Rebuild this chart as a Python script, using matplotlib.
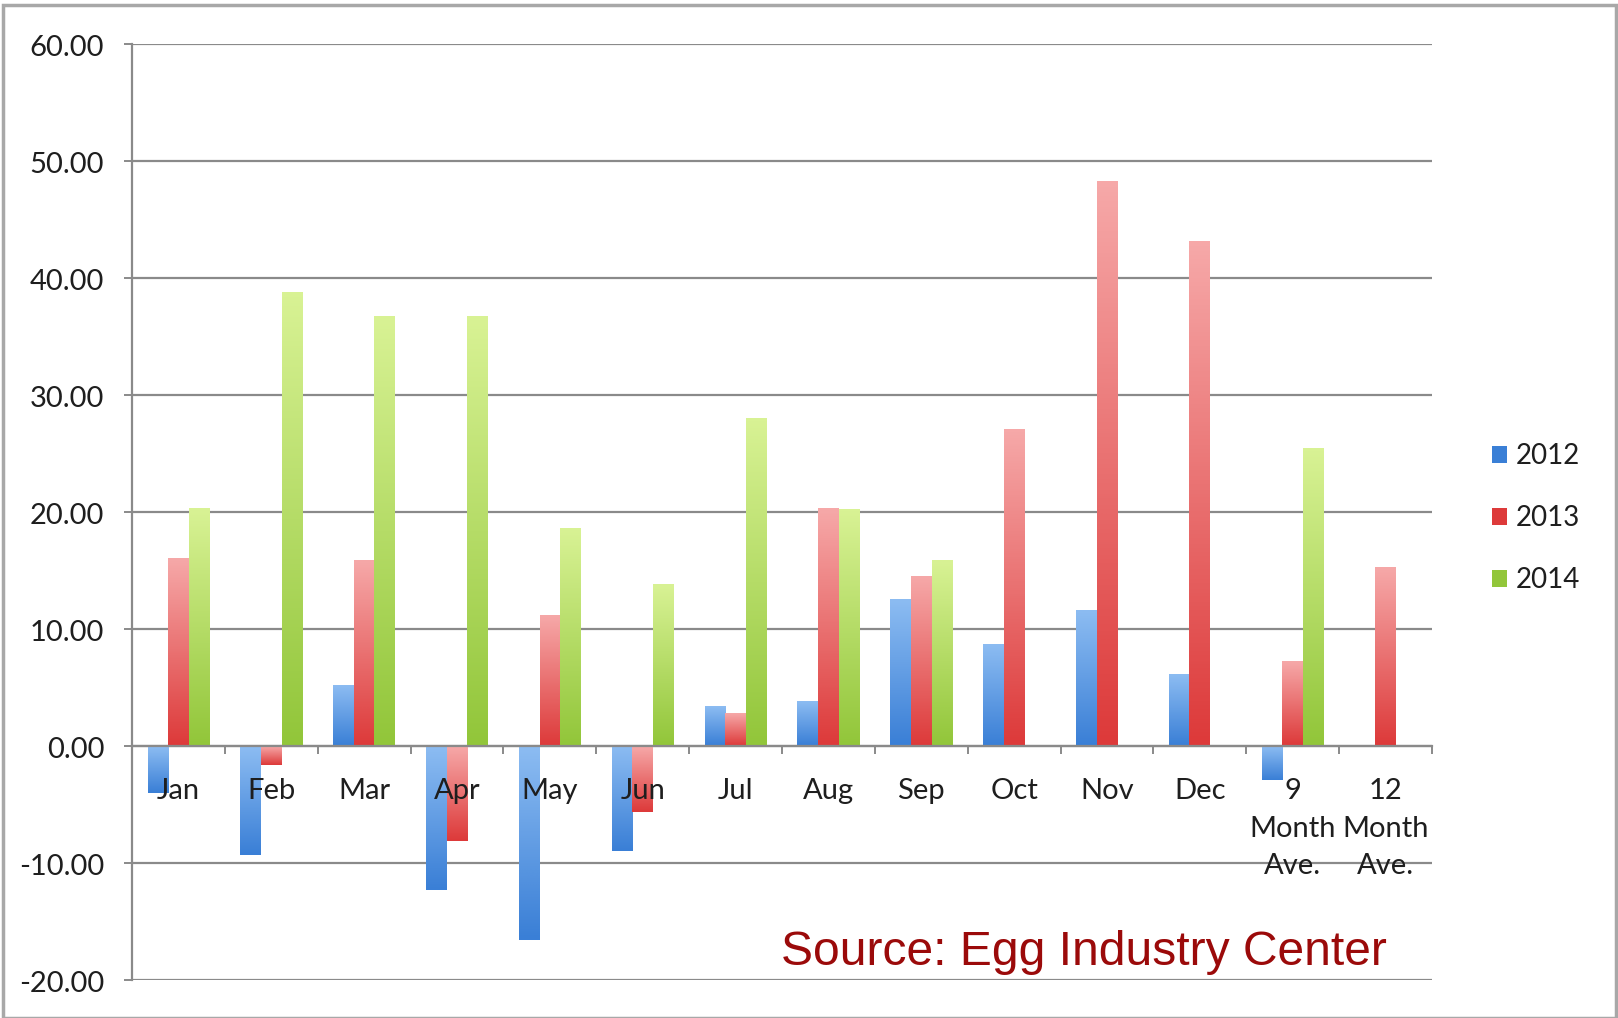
"""Monthly % change bar chart, 2012-2014 (Egg Industry Center)."""

import numpy as np
import matplotlib
matplotlib.use("Agg")
import matplotlib.pyplot as plt
import matplotlib.transforms as mtrans
from matplotlib.colors import LinearSegmentedColormap
from matplotlib.patches import Rectangle

categories = ["Jan", "Feb", "Mar", "Apr", "May", "Jun", "Jul", "Aug", "Sep",
              "Oct", "Nov", "Dec", "9\nMonth\nAve.", "12\nMonth\nAve."]
years = ["2012", "2013", "2014"]
vals_2012 = [-4.0, -9.3, 5.2, -12.3, -16.6, -9.0, 3.4, 3.8, 12.5, 8.7, 11.6, 6.1, -2.9, np.nan]
vals_2013 = [16.0, -1.6, 15.9, -8.1, 11.2, -5.6, 2.8, 20.3, 14.5, 27.1, 48.3, 43.1, 7.2, 15.3]
vals_2014 = [20.3, 38.8, 36.7, 36.7, 18.6, 13.8, 28.0, 20.2, 15.9, np.nan, np.nan, np.nan, 25.4, np.nan]
y_ticks = [-20, -10, 0, 10, 20, 30, 40, 50, 60]

# (top colour, bottom colour) for each series
GRADIENTS = [("#8cbcf2", "#3a7fd6"), ("#f6a8a8", "#dd3a3a"), ("#d8f294", "#92c63a")]
LABEL_FONT = ["Lato", "DejaVu Sans"]
TEXT_COLOR = "#1e1e1e"

fig = plt.figure(figsize=(16.18, 10.18), dpi=100)
ax = fig.add_axes([0.0816, 0.0373, 0.8034, 0.9191])

x = np.arange(len(categories))
width = 0.222
series = [vals_2012, vals_2013, vals_2014]

for gy in y_ticks:
    ax.axhline(gy, color="#8a8a8a", linewidth=1.6, zorder=0)

for i, (vals, (top, bot)) in enumerate(zip(series, GRADIENTS)):
    cmap = LinearSegmentedColormap.from_list(f"g{i}", [bot, top])
    bars = ax.bar(x + (i - 1) * width, vals, width, color=bot,
                  label=years[i], zorder=1, linewidth=0)
    for b in bars:
        h = b.get_height()
        if np.isnan(h) or h == 0:
            continue
        x0, y0 = b.get_x(), b.get_y()
        y1 = y0 + h
        lo, hi = min(y0, y1), max(y0, y1)
        grad = np.linspace(0, 1, 64).reshape(-1, 1)
        ax.imshow(grad, cmap=cmap, origin="lower", aspect="auto",
                  extent=(x0, x0 + b.get_width(), lo, hi), zorder=1.2,
                  interpolation="bicubic")

ax.set_xlim(-0.5, len(categories) - 0.5)
ax.set_ylim(-20, 60)

# axes styling
for s in ["top", "right"]:
    ax.spines[s].set_visible(False)
ax.spines["bottom"].set_position(("data", 0))
ax.spines["bottom"].set_color("#8a8a8a")
ax.spines["bottom"].set_linewidth(1.6)
ax.spines["left"].set_color("#8a8a8a")
ax.spines["left"].set_linewidth(1.6)

ax.set_xticks(np.arange(-0.5, len(categories), 1.0))
ax.set_xticklabels([])
ax.set_xticks(x, minor=True)
ax.set_xticklabels(categories, minor=True, fontsize=21, family=LABEL_FONT,
                   color=TEXT_COLOR, linespacing=1.55)
ax.tick_params(axis="x", which="major", direction="out", length=6,
               width=1.4, color="#8a8a8a")
ax.tick_params(axis="x", which="minor", length=0, pad=23)

ax.set_yticks(y_ticks)
ax.set_yticklabels([f"{v:.2f}" for v in y_ticks], fontsize=21,
                   family=LABEL_FONT, color=TEXT_COLOR, va="center")
ax.tick_params(axis="y", direction="out", length=6, width=1.4,
               color="#8a8a8a", pad=14)
shift = mtrans.ScaledTranslation(0, -4 / 100, fig.dpi_scale_trans)
for lbl in ax.get_yticklabels():
    lbl.set_transform(lbl.get_transform() + shift)

leg = fig.legend(loc="center left", bbox_to_anchor=(0.9135, 0.491),
                 frameon=False, prop={"family": LABEL_FONT, "size": 20},
                 handlelength=0.55, handleheight=0.55, handletextpad=0.3,
                 labelspacing=1.3, borderpad=0)
for h, (top, bot) in zip(leg.legend_handles, GRADIENTS):
    h.set_color(bot)
for t in leg.get_texts():
    t.set_color(TEXT_COLOR)

fig.text(0.4827, 0.064, "Source: Egg Industry Center", fontsize=34.6,
         family=["Liberation Sans", "DejaVu Sans"], color="#9b0a0a",
         ha="left", va="center")

fig.patches.append(Rectangle((0.002, 0.0), 0.9965, 0.995, transform=fig.transFigure,
                             fill=False, edgecolor="#a8a8a8", linewidth=2.5,
                             zorder=0))

fig.savefig("out.png", dpi=100)
